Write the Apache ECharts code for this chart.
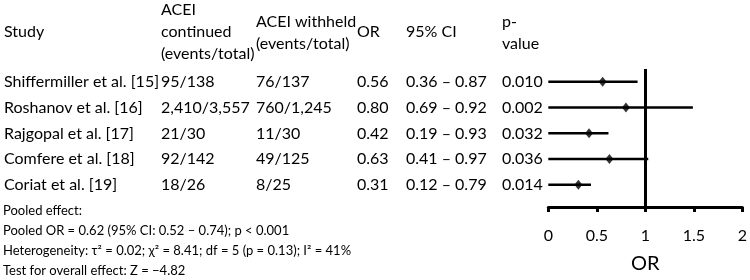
<!DOCTYPE html>
<html>
<head>
<meta charset="utf-8">
<script src="https://cdn.jsdelivr.net/npm/echarts@6/dist/echarts.min.js"></script>
<style>
html, body { margin: 0; padding: 0; background: #fff; }
#main { width: 750px; height: 280px; }
</style>
</head>
<body>
<div id="main"></div>
<script>
// table data
var studies = ['Shiffermiller et al. [15]', 'Roshanov et al. [16]', 'Rajgopal et al. [17]', 'Comfere et al. [18]', 'Coriat et al. [19]'];
var continued = ['95/138', '2,410/3,557', '21/30', '92/142', '18/26'];
var withheld = ['76/137', '760/1,245', '11/30', '49/125', '8/25'];
var orText = ['0.56', '0.80', '0.42', '0.63', '0.31'];
var ciText = ['0.36 \u2013 0.87', '0.69 \u2013 0.92', '0.19 \u2013 0.93', '0.41 \u2013 0.97', '0.12 \u2013 0.79'];
var pText = ['0.010', '0.002', '0.032', '0.036', '0.014'];

// plotted marks (as drawn in the figure)
var orPoint = [0.56, 0.80, 0.42, 0.63, 0.31];
var barLow = [0, 0, 0, 0, 0];
var barHigh = [0.92, 1.49, 0.62, 1.03, 0.44];
var xTicks = [0, 0.5, 1, 1.5, 2];

var footer = [
    'Pooled effect:',
    'Pooled OR = 0.62 (95% CI: 0.52 \u2013 0.74); p < 0.001',
    'Heterogeneity: \u03c4\u00b2 = 0.02; \u03c7\u00b2 = 8.41; df = 5 (p = 0.13); I\u00b2 = 41%',
    'Test for overall effect: Z = \u22124.82'
];

var FONT = 'Lato, "Open Sans", sans-serif';
var ink = '#000';

var chart = echarts.init(document.getElementById('main'));

var option = {
    animation: false,
    grid: { left: 548.3, right: 7.3, top: 69, bottom: 73 },
    xAxis: {
        type: 'value',
        min: xTicks[0],
        max: xTicks[xTicks.length - 1],
        interval: 0.5,
        splitLine: { show: false },
        axisLine: { show: true, onZero: false, lineStyle: { color: ink, width: 3 } },
        axisTick: { show: true, length: 5, lineStyle: { color: ink, width: 3 } },
        axisLabel: { color: ink, fontFamily: FONT, fontSize: 16, margin: 21 },
        name: 'OR',
        nameLocation: 'middle',
        nameGap: 47,
        nameTextStyle: { color: ink, fontFamily: FONT, fontSize: 20 }
    },
    yAxis: {
        type: 'value',
        inverse: true,
        min: -0.5,
        max: 4.86,
        show: false
    },
    series: [
        {
            type: 'custom',
            data: studies.map(function (s, i) { return [barLow[i], barHigh[i], i]; }),
            encode: { x: [0, 1], y: 2 },
            renderItem: function (params, api) {
                var a = api.coord([api.value(0), api.value(2)]);
                var b = api.coord([api.value(1), api.value(2)]);
                return {
                    type: 'line',
                    shape: { x1: a[0], y1: a[1], x2: b[0], y2: b[1] },
                    style: { stroke: ink, lineWidth: 2.5 }
                };
            },
            silent: true
        },
        {
            type: 'scatter',
            data: orPoint.map(function (v, i) { return [v, i]; }),
            symbol: 'diamond',
            symbolSize: [8, 10],
            itemStyle: { color: ink },
            silent: true,
            markLine: {
                silent: true,
                symbol: 'none',
                label: { show: false },
                lineStyle: { color: ink, width: 3, type: 'solid' },
                data: [{ xAxis: 1 }]
            }
        }
    ]
};
chart.setOption(option);

// table text, rows lined up with the plot rows
function rowY(i) {
    return chart.convertToPixel({ gridIndex: 0 }, [0, i])[1];
}
function txt(s, x, y, size) {
    return {
        type: 'text',
        silent: true,
        style: {
            text: s, x: x, y: y,
            fill: ink,
            font: (size || 16) + 'px ' + FONT,
            verticalAlign: 'middle'
        }
    };
}

var cols = [4, 161, 256, 357, 406, 502];
var g = [];
g.push(txt('Study', cols[0], 32));
g.push(txt('ACEI', cols[1], 10));
g.push(txt('continued', cols[1], 32));
g.push(txt('(events/total)', cols[1], 54));
g.push(txt('ACEI withheld', cols[2], 22));
g.push(txt('(events/total)', cols[2], 44));
g.push(txt('OR', cols[3], 32));
g.push(txt('95% CI', cols[4], 32));
g.push(txt('p-', cols[5], 22));
g.push(txt('value', cols[5], 44));

studies.forEach(function (s, i) {
    var y = rowY(i);
    g.push(txt(s, cols[0], y));
    g.push(txt(continued[i], cols[1], y));
    g.push(txt(withheld[i], cols[2], y));
    g.push(txt(orText[i], cols[3], y));
    g.push(txt(ciText[i], cols[4], y));
    g.push(txt(pText[i], cols[5], y));
});

footer.forEach(function (s, i) {
    g.push(txt(s, 3, 211 + i * 20, 13));
});

chart.setOption({ graphic: g });
</script>
</body>
</html>
